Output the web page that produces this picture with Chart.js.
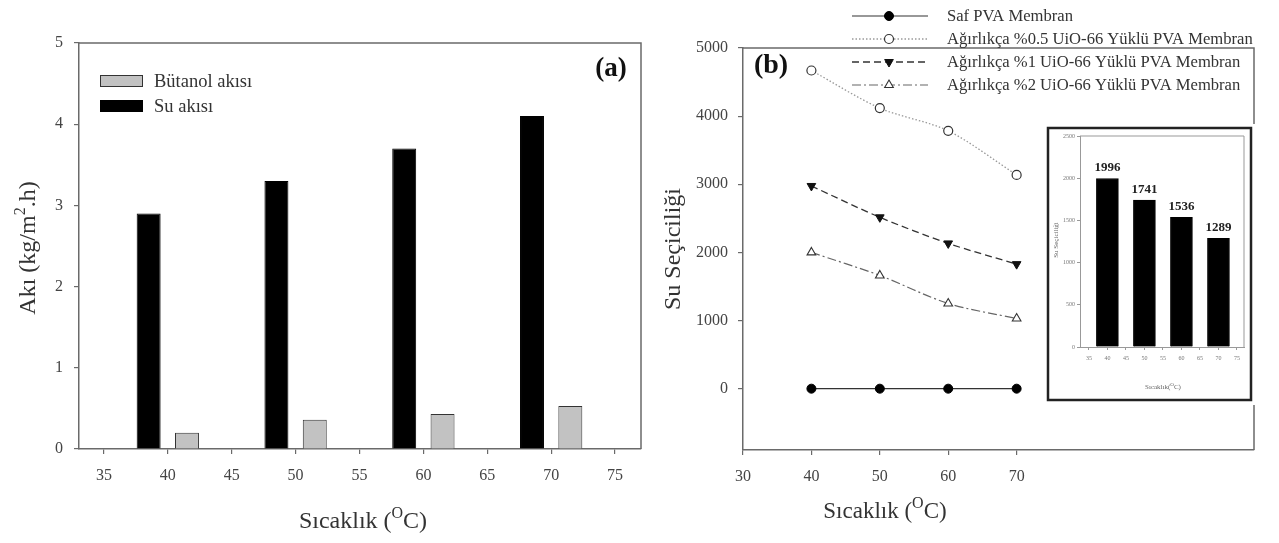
<!DOCTYPE html>
<html><head><meta charset="utf-8">
<script src="https://cdn.jsdelivr.net/npm/chart.js@4.4.0/dist/chart.umd.min.js"></script>
<style>
html,body{margin:0;padding:0;background:#fff;}
#wrap{position:relative;width:1279px;height:543px;overflow:hidden;background:#fff;}
canvas{position:absolute;display:block;}
#ca{left:0;top:0;}
#cb{left:660px;top:0;}
#ci{left:1044px;top:124px;}
</style></head><body>
<div id="wrap">
<canvas id="ca" width="660" height="543"></canvas>
<canvas id="cb" width="619" height="543"></canvas>
<canvas id="ci" width="212" height="281"></canvas>
</div>
<script>
// ---------- DATA ----------
// Panel (a): flux vs temperature
const tempsA = [40, 50, 60, 70];
const suAkisi = [2.9, 3.3, 3.7, 4.1];
const butanolAkisi = [0.2, 0.36, 0.43, 0.53];
const xTicksA = [35, 40, 45, 50, 55, 60, 65, 70, 75];
const yTicksA = [0, 1, 2, 3, 4, 5];

// Panel (b): water selectivity vs temperature
const tempsB = [40, 50, 60, 70];
const safPVA = [0, 0, 0, 0];
const uio05 = [4670, 4118, 3784, 3137];
const uio1 = [2975, 2515, 2132, 1828];
const uio2 = [2000, 1662, 1250, 1029];
const xTicksB = [30, 40, 50, 60, 70];
const yTicksB = [0, 1000, 2000, 3000, 4000, 5000];

// Inset
const tempsInset = [40, 50, 60, 70];
const insetSel = [1996, 1741, 1536, 1289];
const xTicksInset = [35, 40, 45, 50, 55, 60, 65, 70, 75];
const yTicksInset = [0, 500, 1000, 1500, 2000, 2500];

// ---------- HELPERS ----------
const SERIF = "'Liberation Serif','Times New Roman',serif";
Chart.defaults.font.family = SERIF;
Chart.defaults.color = '#333';
Chart.defaults.animation = false;

const pts = (xs, ys) => xs.map((x, i) => ({x: x, y: ys[i]}));
const fixTicks = arr => (s => { s.ticks = arr.map(v => ({value: v})); });
const plain = v => String(v);

function richText(ctx, parts, x, y, size, rotate, weight, color) {
  ctx.save();
  ctx.translate(x, y);
  if (rotate) ctx.rotate(-Math.PI / 2);
  const sup = Math.round(size * 0.68);
  const w = (weight || 'normal');
  let total = 0;
  const widths = parts.map(p => {
    ctx.font = w + ' ' + (p.sup ? sup : size) + 'px ' + SERIF;
    const m = ctx.measureText(p.t).width; total += m; return m;
  });
  ctx.fillStyle = color || '#333';
  ctx.textAlign = 'left';
  ctx.textBaseline = 'alphabetic';
  let cx = -total / 2;
  const base = size * 0.33;
  parts.forEach((p, i) => {
    ctx.font = w + ' ' + (p.sup ? sup : size) + 'px ' + SERIF;
    ctx.fillText(p.t, cx, p.sup ? base - size * 0.42 : base);
    cx += widths[i];
  });
  ctx.restore();
}

function drawFrame(chart, color, width) {
  const a = chart.chartArea, ctx = chart.ctx;
  ctx.save();
  ctx.strokeStyle = color; ctx.lineWidth = width;
  ctx.beginPath();
  ctx.moveTo(a.left, a.top); ctx.lineTo(a.right, a.top); ctx.lineTo(a.right, a.bottom);
  ctx.stroke();
  ctx.restore();
}

const AXIS_COLOR = '#6a6a6a';
function axisOpts(extra) {
  return Object.assign({
    offset: false,
    grid: {display: true, drawOnChartArea: false, drawTicks: true, tickLength: 5, color: AXIS_COLOR, offset: false, lineWidth: 1.2},
    border: {display: true, color: AXIS_COLOR, width: 1.5},
  }, extra);
}

// ---------- PANEL (a) ----------
new Chart(document.getElementById('ca'), {
  type: 'bar',
  data: {
    datasets: [
      {label: 'Su akısı', data: pts(tempsA, suAkisi), backgroundColor: '#000', borderColor: '#000', borderWidth: 1,
       categoryPercentage: 1.2, barPercentage: 0.625},
      {label: 'Bütanol akısı', data: pts(tempsA, butanolAkisi), backgroundColor: '#c2c2c2', borderColor: '#333', borderWidth: 1,
       categoryPercentage: 1.2, barPercentage: 0.625}
    ]
  },
  options: {
    responsive: false, animation: false,
    layout: {padding: {left: 0, top: 43, right: 19, bottom: 0}},
    plugins: {legend: {display: false}, tooltip: {enabled: false}},
    scales: {
      x: axisOpts({type: 'linear', min: 33.05, max: 77.03,
        afterBuildTicks: fixTicks(xTicksA), afterFit: s => { s.height = 94; },
        ticks: {padding: 12, font: {size: 16}, color: '#444', maxRotation: 0, callback: plain}}),
      y: axisOpts({type: 'linear', min: 0, max: 5,
        afterBuildTicks: fixTicks(yTicksA), afterFit: s => { s.width = 79; },
        ticks: {padding: 11, font: {size: 16}, color: '#444', callback: plain}})
    }
  },
  plugins: [{
    id: 'decoA',
    afterDraw(chart) {
      const ctx = chart.ctx;
      drawFrame(chart, AXIS_COLOR, 1.5);
      // legend (reverse order)
      const items = chart.data.datasets.slice().reverse();
      items.forEach((ds, i) => {
        const y = 81 + i * 25;
        ctx.save();
        ctx.fillStyle = ds.backgroundColor; ctx.strokeStyle = ds.borderColor; ctx.lineWidth = 1;
        ctx.fillRect(100, y - 6, 43, 12); ctx.strokeRect(100.5, y - 5.5, 42, 11);
        ctx.fillStyle = '#333'; ctx.font = '18.5px ' + SERIF; ctx.textBaseline = 'middle'; ctx.textAlign = 'left';
        ctx.fillText(ds.label, 154, y + 1);
        ctx.restore();
      });
      richText(ctx, [{t: '(a)'}], 611, 67, 27, false, 'bold', '#111');
      richText(ctx, [{t: 'Akı (kg/m'}, {t: '2', sup: true}, {t: '.h)'}], 27, 248, 24, true);
      richText(ctx, [{t: 'Sıcaklık ('}, {t: 'O', sup: true}, {t: 'C)'}], 363, 520, 24, false);
    }
  }]
});

// ---------- PANEL (b) ----------
const chartB = new Chart(document.getElementById('cb'), {
  type: 'line',
  data: {
    datasets: [
      {label: 'Saf PVA Membran', data: pts(tempsB, safPVA), borderColor: '#333', borderWidth: 1.2, borderDash: [],
       pointStyle: 'circle', pointRadius: 4.5, pointBackgroundColor: '#000', pointBorderColor: '#000', pointBorderWidth: 1, pointRotation: 0},
      {label: 'Ağırlıkça %0.5 UiO-66 Yüklü PVA Membran', data: pts(tempsB, uio05), borderColor: '#9a9a9a', borderWidth: 1.3, borderDash: [1.5, 2],
       pointStyle: 'circle', pointRadius: 4.5, pointBackgroundColor: '#fff', pointBorderColor: '#333', pointBorderWidth: 1.2, pointRotation: 0},
      {label: 'Ağırlıkça %1 UiO-66 Yüklü PVA Membran', data: pts(tempsB, uio1), borderColor: '#333', borderWidth: 1.3, borderDash: [7, 4],
       pointStyle: 'triangle', pointRadius: 5, pointBackgroundColor: '#111', pointBorderColor: '#111', pointBorderWidth: 1, pointRotation: 180},
      {label: 'Ağırlıkça %2 UiO-66 Yüklü PVA Membran', data: pts(tempsB, uio2), borderColor: '#666', borderWidth: 1.2, borderDash: [9, 3, 2, 3],
       pointStyle: 'triangle', pointRadius: 5, pointBackgroundColor: '#fff', pointBorderColor: '#333', pointBorderWidth: 1.1, pointRotation: 0}
    ]
  },
  options: {
    responsive: false, animation: false,
    layout: {padding: {left: 0, top: 48, right: 25, bottom: 0}},
    elements: {line: {tension: 0.3}},
    plugins: {legend: {display: false}, tooltip: {enabled: false}},
    scales: {
      x: axisOpts({type: 'linear', min: 30, max: 104.7,
        afterBuildTicks: fixTicks(xTicksB), afterFit: s => { s.height = 93; },
        ticks: {padding: 12, font: {size: 16}, color: '#444', maxRotation: 0, callback: plain}}),
      y: axisOpts({type: 'linear', min: -900, max: 5000,
        afterBuildTicks: fixTicks(yTicksB), afterFit: s => { s.width = 83; },
        ticks: {padding: 10, font: {size: 16}, color: '#444', callback: plain}})
    }
  },
  plugins: [{
    id: 'decoB',
    afterDraw(chart) {
      const ctx = chart.ctx;
      drawFrame(chart, AXIS_COLOR, 1.5);
      chart.data.datasets.forEach((ds, i) => {
        const y = 16 + i * 23;
        ctx.save();
        ctx.strokeStyle = ds.borderColor; ctx.lineWidth = ds.borderWidth;
        ctx.setLineDash(ds.borderDash);
        ctx.beginPath(); ctx.moveTo(192, y); ctx.lineTo(268, y); ctx.stroke();
        ctx.setLineDash([]);
        ctx.fillStyle = ds.pointBackgroundColor; ctx.strokeStyle = ds.pointBorderColor; ctx.lineWidth = ds.pointBorderWidth;
        Chart.helpers.drawPoint(ctx, {pointStyle: ds.pointStyle, radius: ds.pointRadius, rotation: ds.pointRotation, borderWidth: ds.pointBorderWidth}, 229, y);
        ctx.fillStyle = '#333'; ctx.font = '16.6px ' + SERIF; ctx.textBaseline = 'middle'; ctx.textAlign = 'left';
        ctx.fillText(ds.label, 287, y + 1);
        ctx.restore();
      });
      richText(ctx, [{t: '(b)'}], 111, 64, 28, false, 'bold', '#111');
      richText(ctx, [{t: 'Su Seçiciliği'}], 12, 249, 24, true);
      richText(ctx, [{t: 'Sıcaklık ('}, {t: 'O', sup: true}, {t: 'C)'}], 225, 510, 23, false);
    }
  }]
});

// ---------- INSET ----------
new Chart(document.getElementById('ci'), {
  type: 'bar',
  data: {
    datasets: [{label: 'Su Seçiciliği', data: pts(tempsInset, insetSel), backgroundColor: '#000', borderColor: '#000', borderWidth: 1, barThickness: 22}]
  },
  options: {
    responsive: false, animation: false,
    layout: {padding: {left: 0, top: 12, right: 12, bottom: 0}},
    plugins: {legend: {display: false}, tooltip: {enabled: false}},
    scales: {
      x: {type: 'linear', min: 32.6, max: 76.9, offset: false,
        afterBuildTicks: fixTicks(xTicksInset), afterFit: s => { s.height = 58; },
        grid: {display: true, drawOnChartArea: false, tickLength: 3, color: '#999', offset: false},
        border: {color: '#999', width: 1},
        ticks: {padding: 5, font: {size: 6}, color: '#777', maxRotation: 0, callback: plain}},
      y: {type: 'linear', min: 0, max: 2500,
        afterBuildTicks: fixTicks(yTicksInset), afterFit: s => { s.width = 36; },
        grid: {display: true, drawOnChartArea: false, tickLength: 3, color: '#999'},
        border: {color: '#999', width: 1},
        ticks: {padding: 2, font: {size: 6}, color: '#777', callback: plain}}
    }
  },
  plugins: [{
    id: 'insetBg',
    beforeDraw(chart) {
      const ctx = chart.ctx;
      ctx.save(); ctx.fillStyle = '#fff'; ctx.fillRect(0, 0, chart.width, chart.height); ctx.restore();
    },
    afterDraw(chart) {
      const ctx = chart.ctx;
      drawFrame(chart, '#999', 1);
      ctx.save();
      ctx.strokeStyle = '#222'; ctx.lineWidth = 2.5;
      ctx.strokeRect(4, 4, 203, 272);
      const meta = chart.getDatasetMeta(0);
      ctx.fillStyle = '#222'; ctx.font = 'bold 13px ' + SERIF; ctx.textAlign = 'center'; ctx.textBaseline = 'bottom';
      meta.data.forEach((bar, i) => { ctx.fillText(String(insetSel[i]), bar.x, bar.y - 4); });
      ctx.restore();
      richText(ctx, [{t: 'Su Seçiciliği'}], 12, 116, 7, true, 'normal', '#666');
      richText(ctx, [{t: 'Sıcaklık('}, {t: 'O', sup: true}, {t: 'C)'}], 119, 263, 7, false, 'normal', '#666');
    }
  }]
});
</script>
</body></html>
